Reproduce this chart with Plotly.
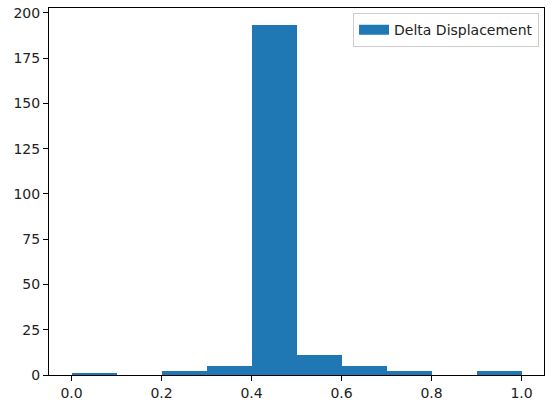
import plotly.graph_objects as go

bin_edges = [0.0, 0.1, 0.2, 0.3, 0.4, 0.5, 0.6, 0.7, 0.8, 0.9, 1.0]
counts = [1, 0, 2, 5, 193, 11, 5, 2, 0, 2]
series_name = "Delta Displacement"
x_ticks = [0.0, 0.2, 0.4, 0.6, 0.8, 1.0]
x_tick_labels = ["0.0", "0.2", "0.4", "0.6", "0.8", "1.0"]
y_ticks = [0, 25, 50, 75, 100, 125, 150, 175, 200]

BLUE = "#1f77b4"
centers = [(bin_edges[i] + bin_edges[i + 1]) / 2 for i in range(len(counts))]
widths = [bin_edges[i + 1] - bin_edges[i] for i in range(len(counts))]

fig = go.Figure()
fig.add_trace(go.Bar(
    x=centers, y=counts, width=widths, name=series_name,
    marker=dict(color=BLUE, line=dict(width=0)),
    showlegend=False, legendgroup="d",
))
# legend-only proxy to get a wide rectangular patch like matplotlib
fig.add_trace(go.Scatter(
    x=[None], y=[None], mode="lines", name=series_name, legendgroup="d",
    line=dict(color=BLUE, width=10), showlegend=True, hoverinfo="skip",
))

ymax = max(counts) * 1.05
fig.update_layout(
    width=553, height=402,
    margin=dict(l=49, r=9, t=8, b=27, autoexpand=False),
    paper_bgcolor="white", plot_bgcolor="white",
    font=dict(family="DejaVu Sans", size=14, color="#222"),
    bargap=0,
    hovermode=False,
    xaxis=dict(
        range=[-0.05, 1.05], tickvals=x_ticks, ticktext=x_tick_labels,
        showgrid=False, zeroline=False, showline=True, linecolor="black",
        linewidth=1, mirror=True, ticks="outside", ticklen=5, tickcolor="black",
        automargin=False,
    ),
    yaxis=dict(
        range=[0, ymax], tickvals=y_ticks,
        showgrid=False, zeroline=False, showline=True, linecolor="black",
        linewidth=1, mirror=True, ticks="outside", ticklen=5, tickcolor="black",
        automargin=False,
    ),
    legend=dict(
        x=0.99, y=0.986, xanchor="right", yanchor="top",
        bgcolor="rgba(255,255,255,0.8)", bordercolor="#cccccc", borderwidth=1,
        font=dict(size=14), itemwidth=30,
    ),
)

fig.write_html(
    "out.html",
    config={"displayModeBar": False},
    post_script="document.body.style.margin='0';document.body.style.overflow='hidden';",
)
